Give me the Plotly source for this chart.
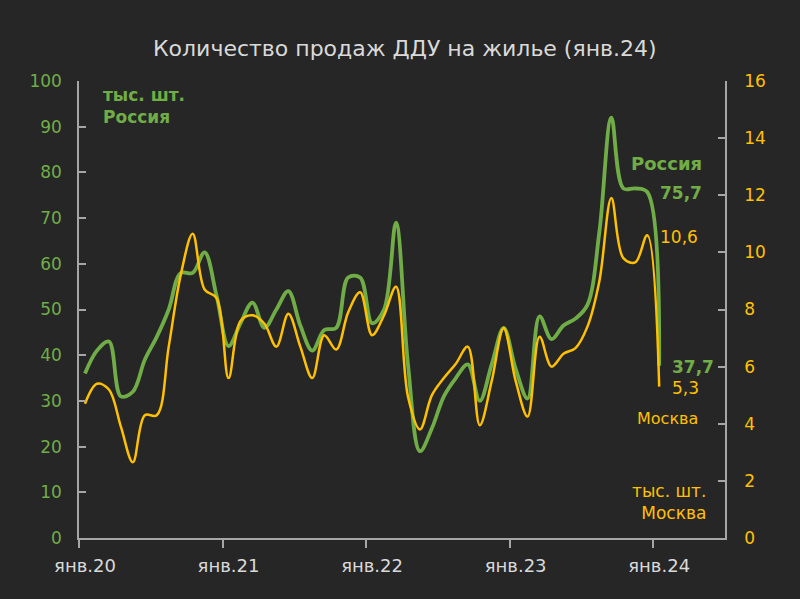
import plotly.graph_objects as go

months = list(range(49))
tick_positions = [0, 12, 24, 36, 48]
tick_labels = ["янв.20", "янв.21", "янв.22", "янв.23", "янв.24"]

russia = [36, 41, 43, 31, 32, 39, 44, 50, 58, 58, 62.5, 53, 42, 47, 51.5, 46, 50, 54, 46.5, 41,
          45.5, 46, 57, 57, 47, 50, 69, 38, 19, 24, 31, 35, 38, 30, 38, 46, 37, 30.5, 48.5, 43.5,
          46.5, 48, 51, 67, 92, 76.5, 76.5, 75.7, 37.7]
moscow = [4.7, 5.4, 5.2, 3.9, 2.65, 4.3, 4.3, 6.7, 9.2, 10.65, 8.7, 8.4, 5.6, 7.6, 7.8, 7.5, 6.7, 7.85, 6.7, 5.6,
          7.1, 6.6, 7.9, 8.6, 7.1, 7.8, 8.8, 4.95, 3.8, 5.0, 5.6, 6.1, 6.7, 3.95, 5.5, 7.35, 5.5, 4.25, 7.05, 6.0,
          6.45, 6.65, 7.4, 9.0, 11.9, 9.8, 9.65, 10.6, 5.3]

GREEN = "#70ad47"
YELLOW = "#ffc000"
BG = "#262626"
AXIS = "#a6a6a6"
FONT = "DejaVu Sans"

fig = go.Figure()
fig.add_trace(go.Scatter(x=months, y=russia, mode="lines", name="Россия",
                         line=dict(color=GREEN, width=3.8, shape="spline", smoothing=1.0),
                         yaxis="y", hoverinfo="skip"))
fig.add_trace(go.Scatter(x=months, y=moscow, mode="lines", name="Москва",
                         line=dict(color=YELLOW, width=2.5, shape="spline", smoothing=1.0),
                         yaxis="y2", hoverinfo="skip"))

fig.update_layout(
    width=800, height=599,
    paper_bgcolor=BG, plot_bgcolor=BG,
    margin=dict(l=79, r=75, t=81, b=61),
    showlegend=False,
    font=dict(family=FONT, color="#d9d9d9"),
    title=dict(text="Количество продаж ДДУ на жилье (янв.24)", x=0.506, xanchor="center",
               y=0.92, yanchor="middle", font=dict(size=22, color="#d9d9d9", family=FONT)),
    xaxis=dict(range=[-0.5, 53.5], tickmode="array", tickvals=tick_positions, ticktext=tick_labels,
               ticks="", showline=True, linecolor=AXIS, linewidth=1.5, showgrid=False, zeroline=False,
               tickfont=dict(size=18, color="#d9d9d9"), ticklabelstandoff=11,
               minor=dict(tickmode="array", tickvals=[-0.5, 11.5, 23.5, 35.5, 47.5], ticks="outside",
                          ticklen=8, tickcolor=AXIS, tickwidth=1.5, showgrid=False)),
    yaxis=dict(range=[0, 100], dtick=10, ticks="inside", ticklen=7, tickcolor=AXIS, tickwidth=1.5,
               showline=True, linecolor=AXIS, linewidth=1.5, showgrid=False, zeroline=False,
               tickfont=dict(size=17, color=GREEN), ticklabelstandoff=12),
    yaxis2=dict(range=[0, 16], dtick=2, ticks="inside", ticklen=7, tickcolor=AXIS, tickwidth=1.5,
                showline=True, linecolor=AXIS, linewidth=1.5, showgrid=False, zeroline=False,
                overlaying="y", side="right", anchor="x",
                tickfont=dict(size=17, color=YELLOW), ticklabelstandoff=14),
)

def ann(text, x, y, color, bold=False, align="left", xanchor="left", size=16):
    fig.add_annotation(text=f"<b>{text}</b>" if bold else text, x=x, y=y, xref="paper", yref="paper",
                       xanchor=xanchor, yanchor="middle", showarrow=False, align=align,
                       font=dict(size=size, color=color, family=FONT))

def px(xp):
    return (xp - 79) / (725 - 79)

def py(yp):
    return (538 - yp) / (538 - 81)

ann("тыс. шт.<br>Россия", px(101), py(106), GREEN, bold=True, size=17)
ann("Россия", px(704), py(163), GREEN, bold=True, xanchor="right", size=18)
ann("75,7", px(704), py(193), GREEN, bold=True, xanchor="right", size=17)
ann("10,6", px(658), py(237), YELLOW, size=17)
ann("37,7", px(670), py(367), GREEN, bold=True, size=17)
ann("5,3", px(670), py(388), YELLOW, size=17)
ann("Москва", px(700), py(419), YELLOW, xanchor="right", size=16)
ann("тыс. шт.<br>Москва", px(708), py(502), YELLOW, align="right", xanchor="right", size=17)

fig.write_html("out.html", config={"displayModeBar": False},
               post_script="document.body.style.margin='0';document.body.style.background='#262626';")
